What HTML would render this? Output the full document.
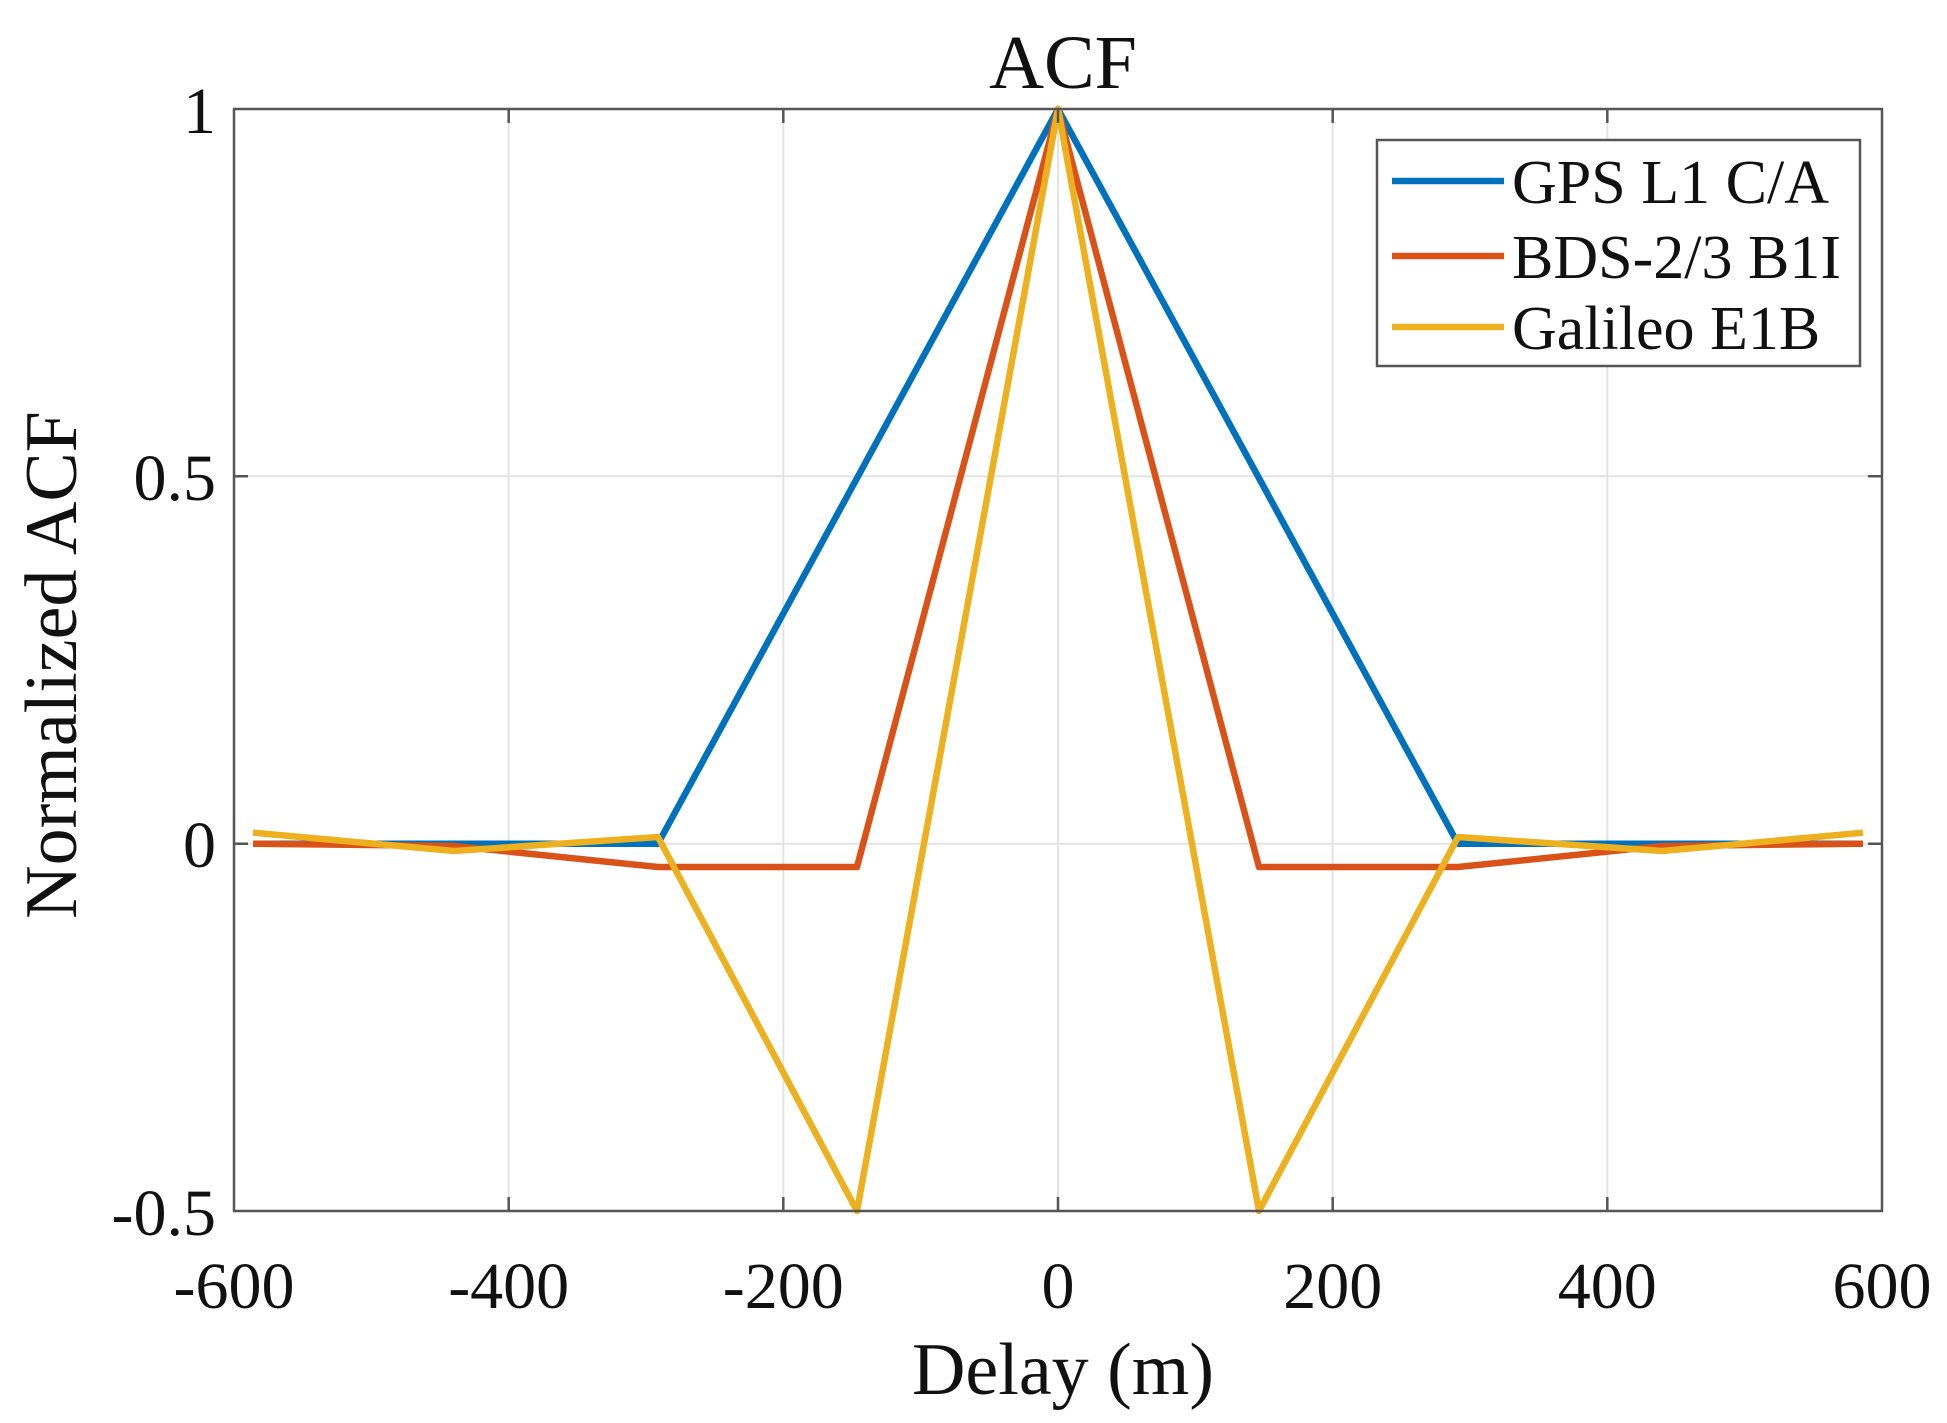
<!DOCTYPE html>
<html><head><meta charset="utf-8"><style>html,body{margin:0;padding:0;background:#fff}</style></head>
<body>
<svg width="1947" height="1418" xmlns="http://www.w3.org/2000/svg" font-family="Liberation Serif, serif" fill="#111">
<rect width="1947" height="1418" fill="#fff"/>
<g stroke="#e3e3e3" stroke-width="2">
<line x1="508.7" y1="109" x2="508.7" y2="1211"/>
<line x1="783.3" y1="109" x2="783.3" y2="1211"/>
<line x1="1058" y1="109" x2="1058" y2="1211"/>
<line x1="1332.7" y1="109" x2="1332.7" y2="1211"/>
<line x1="1607.3" y1="109" x2="1607.3" y2="1211"/>
<line x1="234" y1="476.3" x2="1882" y2="476.3"/>
<line x1="234" y1="843.7" x2="1882" y2="843.7"/>
</g>
<g fill="none" stroke-width="6.5" stroke-linejoin="round">
<polyline stroke="#0072BD" points="253,843.7 658,843.7 1058,109 1458,843.7 1863,843.7"/>
<polyline stroke="#D95319" points="253,843.7 454,846 658,867 857,867 1058,109 1259,867 1458,867 1662,846 1863,843.7"/>
<polyline stroke="#EDB120" points="253,832.7 454,851 658,837 857,1211 1058,109 1259,1211 1458,837 1662,851 1863,832.7"/>
</g>
<g stroke="#555" stroke-width="2.5" fill="none">
<rect x="234" y="109" width="1648" height="1102"/>
<path d="M508.7 109v14M783.3 109v14M1058 109v14M1332.7 109v14M1607.3 109v14M508.7 1211v-14M783.3 1211v-14M1058 1211v-14M1332.7 1211v-14M1607.3 1211v-14M234 476.3h14M234 843.7h14M1882 476.3h-14M1882 843.7h-14"/>
</g>
<g font-size="66" text-anchor="middle">
<text x="234" y="1308">-600</text>
<text x="508.7" y="1308">-400</text>
<text x="783.3" y="1308">-200</text>
<text x="1058" y="1308">0</text>
<text x="1332.7" y="1308">200</text>
<text x="1607.3" y="1308">400</text>
<text x="1882" y="1308">600</text>
</g>
<g font-size="66" text-anchor="end">
<text x="216" y="133">1</text>
<text x="216" y="500">0.5</text>
<text x="216" y="867">0</text>
<text x="216" y="1235">-0.5</text>
</g>
<text x="1063" y="88" font-size="76" text-anchor="middle">ACF</text>
<text x="1063" y="1394" font-size="74" text-anchor="middle">Delay (m)</text>
<text transform="translate(76,665) rotate(-90)" font-size="74" text-anchor="middle">Normalized ACF</text>
<rect x="1377" y="140" width="483" height="226" fill="#fff" stroke="#555" stroke-width="2.5"/>
<g stroke-width="6.5">
<line x1="1392" y1="181" x2="1504" y2="181" stroke="#0072BD"/>
<line x1="1392" y1="256" x2="1504" y2="256" stroke="#D95319"/>
<line x1="1392" y1="327" x2="1504" y2="327" stroke="#EDB120"/>
</g>
<g font-size="62">
<text x="1512" y="203">GPS L1 C/A</text>
<text x="1512" y="278">BDS-2/3 B1I</text>
<text x="1512" y="349">Galileo E1B</text>
</g>
</svg>
</body></html>
